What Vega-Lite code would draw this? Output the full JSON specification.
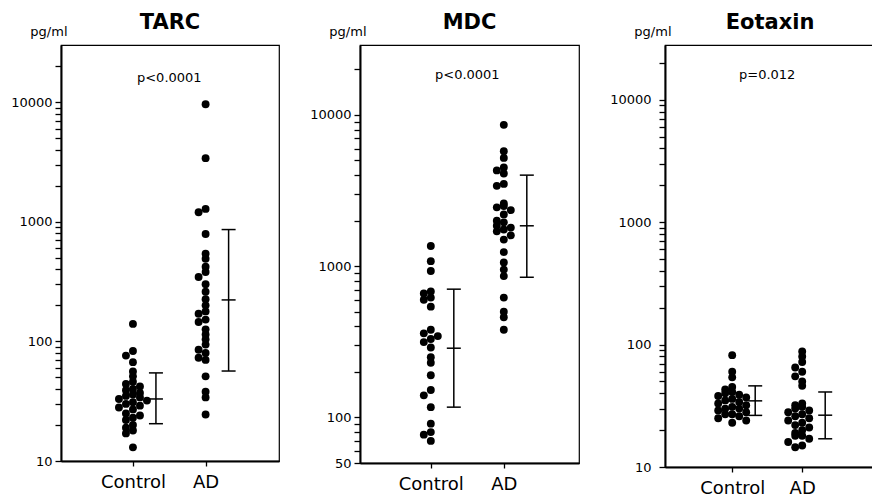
{
  "$schema": "https://vega.github.io/schema/vega-lite/v6.json",
  "background": "white",
  "padding": {"left": 10, "top": 11, "right": 0, "bottom": 0},
  "spacing": 29,
  "datasets": {
    "dots": [
      {"panel":"TARC","group":"Control","value":140},{"panel":"TARC","group":"Control","value":83},{"panel":"TARC","group":"Control","value":76},{"panel":"TARC","group":"Control","value":67},{"panel":"TARC","group":"Control","value":56},{"panel":"TARC","group":"Control","value":51},{"panel":"TARC","group":"Control","value":46},{"panel":"TARC","group":"Control","value":44},{"panel":"TARC","group":"Control","value":42},{"panel":"TARC","group":"Control","value":40},{"panel":"TARC","group":"Control","value":39},{"panel":"TARC","group":"Control","value":37},{"panel":"TARC","group":"Control","value":36},{"panel":"TARC","group":"Control","value":35},{"panel":"TARC","group":"Control","value":34},{"panel":"TARC","group":"Control","value":33},{"panel":"TARC","group":"Control","value":32},{"panel":"TARC","group":"Control","value":31},{"panel":"TARC","group":"Control","value":30},{"panel":"TARC","group":"Control","value":29},{"panel":"TARC","group":"Control","value":28},{"panel":"TARC","group":"Control","value":27},{"panel":"TARC","group":"Control","value":25},{"panel":"TARC","group":"Control","value":24},{"panel":"TARC","group":"Control","value":23},{"panel":"TARC","group":"Control","value":22},{"panel":"TARC","group":"Control","value":20},{"panel":"TARC","group":"Control","value":19},{"panel":"TARC","group":"Control","value":18},{"panel":"TARC","group":"Control","value":17},{"panel":"TARC","group":"Control","value":13},
      {"panel":"TARC","group":"AD","value":9600},{"panel":"TARC","group":"AD","value":3400},{"panel":"TARC","group":"AD","value":1280},{"panel":"TARC","group":"AD","value":1200},{"panel":"TARC","group":"AD","value":790},{"panel":"TARC","group":"AD","value":540},{"panel":"TARC","group":"AD","value":490},{"panel":"TARC","group":"AD","value":420},{"panel":"TARC","group":"AD","value":380},{"panel":"TARC","group":"AD","value":345},{"panel":"TARC","group":"AD","value":300},{"panel":"TARC","group":"AD","value":260},{"panel":"TARC","group":"AD","value":225},{"panel":"TARC","group":"AD","value":200},{"panel":"TARC","group":"AD","value":178},{"panel":"TARC","group":"AD","value":170},{"panel":"TARC","group":"AD","value":152},{"panel":"TARC","group":"AD","value":145},{"panel":"TARC","group":"AD","value":126},{"panel":"TARC","group":"AD","value":114},{"panel":"TARC","group":"AD","value":104},{"panel":"TARC","group":"AD","value":94},{"panel":"TARC","group":"AD","value":85},{"panel":"TARC","group":"AD","value":80},{"panel":"TARC","group":"AD","value":73},{"panel":"TARC","group":"AD","value":70},{"panel":"TARC","group":"AD","value":51},{"panel":"TARC","group":"AD","value":38},{"panel":"TARC","group":"AD","value":34},{"panel":"TARC","group":"AD","value":24.5},
      {"panel":"MDC","group":"Control","value":1360},{"panel":"MDC","group":"Control","value":1080},{"panel":"MDC","group":"Control","value":930},{"panel":"MDC","group":"Control","value":680},{"panel":"MDC","group":"Control","value":660},{"panel":"MDC","group":"Control","value":620},{"panel":"MDC","group":"Control","value":600},{"panel":"MDC","group":"Control","value":540},{"panel":"MDC","group":"Control","value":380},{"panel":"MDC","group":"Control","value":360},{"panel":"MDC","group":"Control","value":345},{"panel":"MDC","group":"Control","value":330},{"panel":"MDC","group":"Control","value":315},{"panel":"MDC","group":"Control","value":290},{"panel":"MDC","group":"Control","value":250},{"panel":"MDC","group":"Control","value":230},{"panel":"MDC","group":"Control","value":190},{"panel":"MDC","group":"Control","value":152},{"panel":"MDC","group":"Control","value":140},{"panel":"MDC","group":"Control","value":117},{"panel":"MDC","group":"Control","value":91},{"panel":"MDC","group":"Control","value":80},{"panel":"MDC","group":"Control","value":77},{"panel":"MDC","group":"Control","value":70},
      {"panel":"MDC","group":"AD","value":8600},{"panel":"MDC","group":"AD","value":5750},{"panel":"MDC","group":"AD","value":5200},{"panel":"MDC","group":"AD","value":4500},{"panel":"MDC","group":"AD","value":4300},{"panel":"MDC","group":"AD","value":4100},{"panel":"MDC","group":"AD","value":3500},{"panel":"MDC","group":"AD","value":3400},{"panel":"MDC","group":"AD","value":2600},{"panel":"MDC","group":"AD","value":2500},{"panel":"MDC","group":"AD","value":2450},{"panel":"MDC","group":"AD","value":2350},{"panel":"MDC","group":"AD","value":2200},{"panel":"MDC","group":"AD","value":2000},{"panel":"MDC","group":"AD","value":1950},{"panel":"MDC","group":"AD","value":1850},{"panel":"MDC","group":"AD","value":1800},{"panel":"MDC","group":"AD","value":1750},{"panel":"MDC","group":"AD","value":1700},{"panel":"MDC","group":"AD","value":1600},{"panel":"MDC","group":"AD","value":1500},{"panel":"MDC","group":"AD","value":1240},{"panel":"MDC","group":"AD","value":1060},{"panel":"MDC","group":"AD","value":950},{"panel":"MDC","group":"AD","value":860},{"panel":"MDC","group":"AD","value":620},{"panel":"MDC","group":"AD","value":500},{"panel":"MDC","group":"AD","value":460},{"panel":"MDC","group":"AD","value":380},
      {"panel":"Eotaxin","group":"Control","value":82},{"panel":"Eotaxin","group":"Control","value":60},{"panel":"Eotaxin","group":"Control","value":54},{"panel":"Eotaxin","group":"Control","value":45},{"panel":"Eotaxin","group":"Control","value":43},{"panel":"Eotaxin","group":"Control","value":41},{"panel":"Eotaxin","group":"Control","value":40},{"panel":"Eotaxin","group":"Control","value":39},{"panel":"Eotaxin","group":"Control","value":38},{"panel":"Eotaxin","group":"Control","value":37},{"panel":"Eotaxin","group":"Control","value":36},{"panel":"Eotaxin","group":"Control","value":35},{"panel":"Eotaxin","group":"Control","value":34},{"panel":"Eotaxin","group":"Control","value":33},{"panel":"Eotaxin","group":"Control","value":32},{"panel":"Eotaxin","group":"Control","value":31},{"panel":"Eotaxin","group":"Control","value":30},{"panel":"Eotaxin","group":"Control","value":30},{"panel":"Eotaxin","group":"Control","value":29},{"panel":"Eotaxin","group":"Control","value":28},{"panel":"Eotaxin","group":"Control","value":27},{"panel":"Eotaxin","group":"Control","value":27},{"panel":"Eotaxin","group":"Control","value":26},{"panel":"Eotaxin","group":"Control","value":25},{"panel":"Eotaxin","group":"Control","value":24},{"panel":"Eotaxin","group":"Control","value":23},
      {"panel":"Eotaxin","group":"AD","value":88},{"panel":"Eotaxin","group":"AD","value":80},{"panel":"Eotaxin","group":"AD","value":72},{"panel":"Eotaxin","group":"AD","value":65},{"panel":"Eotaxin","group":"AD","value":60},{"panel":"Eotaxin","group":"AD","value":55},{"panel":"Eotaxin","group":"AD","value":50},{"panel":"Eotaxin","group":"AD","value":46},{"panel":"Eotaxin","group":"AD","value":33},{"panel":"Eotaxin","group":"AD","value":32},{"panel":"Eotaxin","group":"AD","value":31},{"panel":"Eotaxin","group":"AD","value":30},{"panel":"Eotaxin","group":"AD","value":29},{"panel":"Eotaxin","group":"AD","value":28},{"panel":"Eotaxin","group":"AD","value":27},{"panel":"Eotaxin","group":"AD","value":26},{"panel":"Eotaxin","group":"AD","value":25},{"panel":"Eotaxin","group":"AD","value":24},{"panel":"Eotaxin","group":"AD","value":23},{"panel":"Eotaxin","group":"AD","value":22},{"panel":"Eotaxin","group":"AD","value":21},{"panel":"Eotaxin","group":"AD","value":20},{"panel":"Eotaxin","group":"AD","value":19},{"panel":"Eotaxin","group":"AD","value":18},{"panel":"Eotaxin","group":"AD","value":18},{"panel":"Eotaxin","group":"AD","value":17},{"panel":"Eotaxin","group":"AD","value":16},{"panel":"Eotaxin","group":"AD","value":15},{"panel":"Eotaxin","group":"AD","value":14.5}
    ],
    "bars": [
      {"panel":"TARC","group":"Control","mean":33,"lo":20.5,"hi":54.5},
      {"panel":"TARC","group":"AD","mean":222,"lo":56.5,"hi":860},
      {"panel":"MDC","group":"Control","mean":287,"lo":117,"hi":705},
      {"panel":"MDC","group":"AD","mean":1850,"lo":845,"hi":4000},
      {"panel":"Eotaxin","group":"Control","mean":34.7,"lo":26.4,"hi":46},
      {"panel":"Eotaxin","group":"AD","mean":26.5,"lo":17,"hi":41}
    ],
    "notes": [
      {"panel":"TARC","p":"p<0.0001","at":16000},
      {"panel":"MDC","p":"p<0.0001","at":18500},
      {"panel":"Eotaxin","p":"p=0.012","at":15800}
    ]
  },
  "hconcat": [
    {
      "width": 218, "height": 416,
      "title": {"text": "TARC"},
      "layer": [
        {
          "data": {"name": "dots"},
          "transform": [
            {"filter": "datum.panel == 'TARC'"},
            {"calculate": "floor(log(datum.value) / LN10 / 0.06)", "as": "lb"},
            {"window": [{"op": "row_number", "as": "k"}], "groupby": ["group", "lb"], "sort": [{"field": "value", "order": "descending"}]},
            {"calculate": "(datum.k % 2 == 0 ? -1 : 1) * floor(datum.k / 2)", "as": "off"}
          ],
          "mark": {"type": "circle", "size": 62, "color": "black", "opacity": 1},
          "encoding": {
            "x": {"field": "group", "type": "nominal", "title": null,
                  "scale": {"type": "point", "domain": ["  ", "Control", " ", "AD", "   "], "padding": 1, "align": 0.49},
                  "axis": {"values": ["Control", "AD"]}},
            "xOffset": {"field": "off", "type": "quantitative", "scale": {"domain": [-3, 3], "range": [-21, 21]}},
            "y": {"field": "value", "type": "quantitative", "title": "pg/ml",
                  "scale": {"type": "log", "domain": [10, 30000], "nice": false},
                  "axis": {
                    "values": [10,20,30,40,50,60,70,80,90,100,200,300,400,500,600,700,800,900,1000,2000,3000,4000,5000,6000,7000,8000,9000,10000,20000],
                    "tickCount": 60,
                    "format": "d",
                    "zindex": 2,
                    "labelExpr": "indexof([10,100,1000,10000], datum.value) >= 0 ? datum.label : ''",
                    "encode": {"ticks": {"update": {"x2": {"signal": "indexof([10,100,1000,10000], datum.value) >= 0 ? -6 : 5"}}}}
                  }}
          }
        },
        {
          "data": {"name": "bars"},
          "transform": [{"filter": "datum.panel == 'TARC'"}],
          "mark": {"type": "rule", "xOffset": 23, "strokeWidth": 1.5, "color": "black"},
          "encoding": {
            "x": {"field": "group", "type": "nominal", "title": null},
            "y": {"field": "lo", "type": "quantitative", "title": "pg/ml"},
            "y2": {"field": "hi"}
          }
        },
        {
          "data": {"name": "bars"},
          "transform": [{"filter": "datum.panel == 'TARC'"}, {"fold": ["lo", "mean", "hi"], "as": ["stat", "v"]}],
          "mark": {"type": "tick", "orient": "horizontal", "xOffset": 23, "size": 14, "thickness": 1.5, "color": "black", "opacity": 1},
          "encoding": {
            "x": {"field": "group", "type": "nominal", "title": null},
            "y": {"field": "v", "type": "quantitative", "title": "pg/ml"}
          }
        },
        {
          "data": {"name": "notes"},
          "transform": [{"filter": "datum.panel == 'TARC'"}],
          "mark": {"type": "text", "font": "DejaVu Sans", "fontSize": 13, "baseline": "middle", "align": "center", "color": "black"},
          "encoding": {
            "x": {"datum": " ", "type": "nominal"},
            "y": {"field": "at", "type": "quantitative", "title": "pg/ml"},
            "text": {"field": "p"}
          }
        }
      ]
    },
    {
      "width": 219, "height": 418,
      "title": {"text": "MDC"},
      "layer": [
        {
          "data": {"name": "dots"},
          "transform": [
            {"filter": "datum.panel == 'MDC'"},
            {"calculate": "floor(log(datum.value) / LN10 / 0.055)", "as": "lb"},
            {"window": [{"op": "row_number", "as": "k"}], "groupby": ["group", "lb"], "sort": [{"field": "value", "order": "descending"}]},
            {"calculate": "(datum.k % 2 == 0 ? -1 : 1) * floor(datum.k / 2)", "as": "off"}
          ],
          "mark": {"type": "circle", "size": 62, "color": "black", "opacity": 1},
          "encoding": {
            "x": {"field": "group", "type": "nominal", "title": null,
                  "scale": {"type": "point", "domain": ["  ", "Control", " ", "AD", "   "], "padding": 1, "align": 0.47},
                  "axis": {"values": ["Control", "AD"]}},
            "xOffset": {"field": "off", "type": "quantitative", "scale": {"domain": [-3, 3], "range": [-21, 21]}},
            "y": {"field": "value", "type": "quantitative", "title": "pg/ml",
                  "scale": {"type": "log", "domain": [50, 29000], "nice": false},
                  "axis": {
                    "values": [50,60,70,80,90,100,200,300,400,500,600,700,800,900,1000,2000,3000,4000,5000,6000,7000,8000,9000,10000,20000],
                    "tickCount": 60,
                    "format": "d",
                    "zindex": 2,
                    "labelExpr": "indexof([50,100,1000,10000], datum.value) >= 0 ? datum.label : ''",
                    "encode": {"ticks": {"update": {"x2": {"signal": "indexof([50,100,1000,10000], datum.value) >= 0 ? -6 : 5"}}}}
                  }}
          }
        },
        {
          "data": {"name": "bars"},
          "transform": [{"filter": "datum.panel == 'MDC'"}],
          "mark": {"type": "rule", "xOffset": 23, "strokeWidth": 1.5, "color": "black"},
          "encoding": {
            "x": {"field": "group", "type": "nominal", "title": null},
            "y": {"field": "lo", "type": "quantitative", "title": "pg/ml"},
            "y2": {"field": "hi"}
          }
        },
        {
          "data": {"name": "bars"},
          "transform": [{"filter": "datum.panel == 'MDC'"}, {"fold": ["lo", "mean", "hi"], "as": ["stat", "v"]}],
          "mark": {"type": "tick", "orient": "horizontal", "xOffset": 23, "size": 14, "thickness": 1.5, "color": "black", "opacity": 1},
          "encoding": {
            "x": {"field": "group", "type": "nominal", "title": null},
            "y": {"field": "v", "type": "quantitative", "title": "pg/ml"}
          }
        },
        {
          "data": {"name": "notes"},
          "transform": [{"filter": "datum.panel == 'MDC'"}],
          "mark": {"type": "text", "font": "DejaVu Sans", "fontSize": 13, "baseline": "middle", "align": "center", "color": "black"},
          "encoding": {
            "x": {"datum": " ", "type": "nominal"},
            "y": {"field": "at", "type": "quantitative", "title": "pg/ml"},
            "text": {"field": "p"}
          }
        }
      ]
    },
    {
      "width": 210, "height": 422,
      "title": {"text": "Eotaxin"},
      "layer": [
        {
          "data": {"name": "dots"},
          "transform": [
            {"filter": "datum.panel == 'Eotaxin'"},
            {"calculate": "floor(log(datum.value) / LN10 / 0.06)", "as": "lb"},
            {"window": [{"op": "row_number", "as": "k"}], "groupby": ["group", "lb"], "sort": [{"field": "value", "order": "descending"}]},
            {"calculate": "(datum.k % 2 == 0 ? -1 : 1) * floor(datum.k / 2)", "as": "off"}
          ],
          "mark": {"type": "circle", "size": 62, "color": "black", "opacity": 1},
          "encoding": {
            "x": {"field": "group", "type": "nominal", "title": null,
                  "scale": {"type": "point", "domain": ["  ", "Control", " ", "AD", "   "], "padding": 1, "align": 0.46},
                  "axis": {"values": ["Control", "AD"]}},
            "xOffset": {"field": "off", "type": "quantitative", "scale": {"domain": [-3, 3], "range": [-21, 21]}},
            "y": {"field": "value", "type": "quantitative", "title": "pg/ml",
                  "scale": {"type": "log", "domain": [10, 28000], "nice": false},
                  "axis": {
                    "values": [10,20,30,40,50,60,70,80,90,100,200,300,400,500,600,700,800,900,1000,2000,3000,4000,5000,6000,7000,8000,9000,10000,20000],
                    "tickCount": 60,
                    "format": "d",
                    "zindex": 2,
                    "labelPadding": 8,
                    "labelExpr": "indexof([10,100,1000,10000], datum.value) >= 0 ? datum.label : ''",
                    "encode": {"ticks": {"update": {"x2": {"signal": "indexof([10,100,1000,10000], datum.value) >= 0 ? -6 : 5"}}}}
                  }}
          }
        },
        {
          "data": {"name": "bars"},
          "transform": [{"filter": "datum.panel == 'Eotaxin'"}],
          "mark": {"type": "rule", "xOffset": 23, "strokeWidth": 1.5, "color": "black"},
          "encoding": {
            "x": {"field": "group", "type": "nominal", "title": null},
            "y": {"field": "lo", "type": "quantitative", "title": "pg/ml"},
            "y2": {"field": "hi"}
          }
        },
        {
          "data": {"name": "bars"},
          "transform": [{"filter": "datum.panel == 'Eotaxin'"}, {"fold": ["lo", "mean", "hi"], "as": ["stat", "v"]}],
          "mark": {"type": "tick", "orient": "horizontal", "xOffset": 23, "size": 14, "thickness": 1.5, "color": "black", "opacity": 1},
          "encoding": {
            "x": {"field": "group", "type": "nominal", "title": null},
            "y": {"field": "v", "type": "quantitative", "title": "pg/ml"}
          }
        },
        {
          "data": {"name": "notes"},
          "transform": [{"filter": "datum.panel == 'Eotaxin'"}],
          "mark": {"type": "text", "font": "DejaVu Sans", "fontSize": 13, "baseline": "middle", "align": "center", "color": "black"},
          "encoding": {
            "x": {"datum": " ", "type": "nominal"},
            "y": {"field": "at", "type": "quantitative", "title": "pg/ml"},
            "text": {"field": "p"}
          }
        }
      ]
    }
  ],
  "resolve": {"scale": {"x": "independent", "y": "independent", "xOffset": "independent"}},
  "config": {
    "font": "DejaVu Sans",
    "view": {"stroke": "black", "strokeWidth": 1.2},
    "title": {"font": "DejaVu Sans", "fontSize": 21, "fontWeight": "bold", "color": "black", "anchor": "middle", "offset": -8},
    "axis": {"grid": false, "domainColor": "black", "domainWidth": 2, "tickColor": "black", "tickWidth": 1.3, "labelColor": "black", "labelFont": "DejaVu Sans", "titleColor": "black"},
    "axisX": {"labelFontSize": 18, "labelAngle": 0, "tickSize": 5, "labelPadding": 7, "domainWidth": 2},
    "axisY": {"labelFontSize": 13, "labelPadding": 3, "tickSize": 6, "labelOverlap": false, "labelFlush": false, "labelBound": false,
              "titleAngle": 0, "titleAlign": "right", "titleBaseline": "alphabetic", "titleX": 6, "titleY": -10,
              "titleFontSize": 13, "titleFontWeight": "normal", "titleFont": "DejaVu Sans"}
  }
}
